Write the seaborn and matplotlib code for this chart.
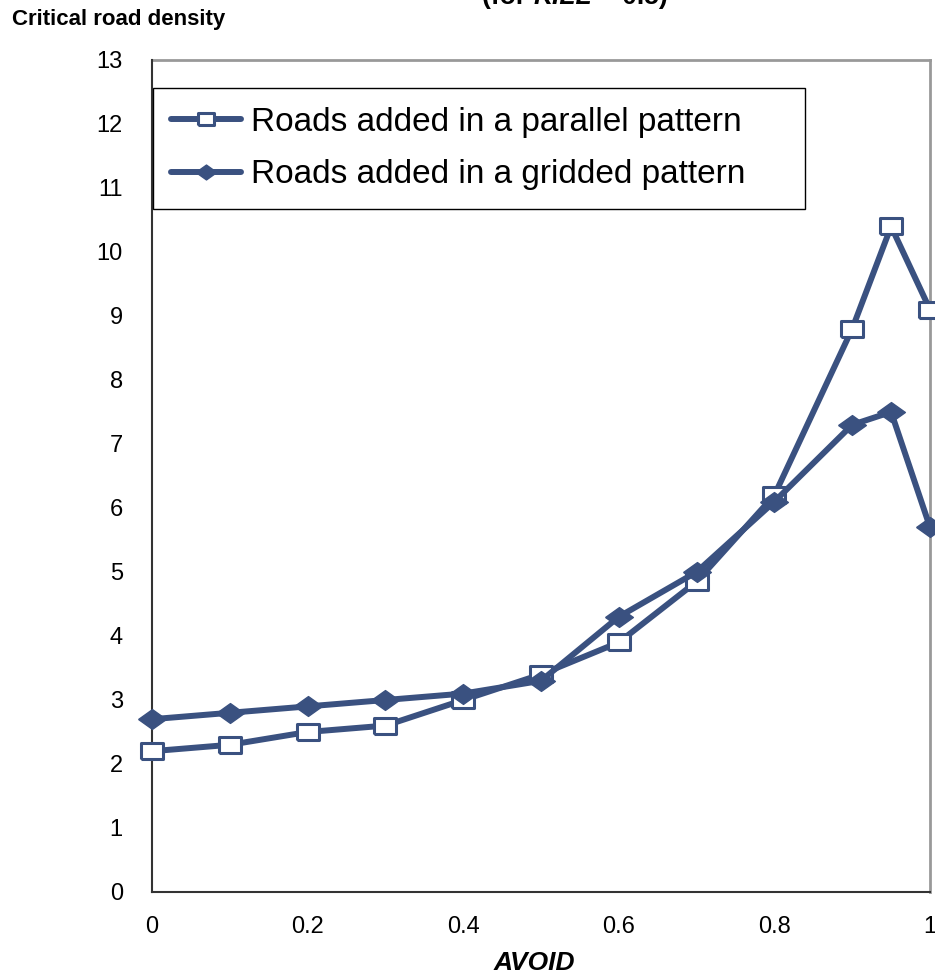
import matplotlib
matplotlib.use("Agg")
import matplotlib.pyplot as plt
import seaborn as sns

# values
avoid = [0, 0.1, 0.2, 0.3, 0.4, 0.5, 0.6, 0.7, 0.8, 0.9, 0.95, 1.0]
parallel = [2.2, 2.3, 2.5, 2.6, 3.0, 3.4, 3.9, 4.85, 6.2, 8.8, 10.4, 9.1]
gridded = [2.7, 2.8, 2.9, 3.0, 3.1, 3.3, 4.3, 5.0, 6.1, 7.3, 7.5, 5.7]
labels = ["Roads added in a parallel pattern", "Roads added in a gridded pattern"]
x_ticks = [0, 0.2, 0.4, 0.6, 0.8, 1.0]
x_ticklabels = ["0", "0.2", "0.4", "0.6", "0.8", "1"]
y_ticks = list(range(0, 14))

sns.set_style("white")
plt.rcParams["font.family"] = ["Liberation Sans", "DejaVu Sans"]
plt.rcParams["text.color"] = "black"

line_col = "#3A5180"
rect = [(-1.4, -1), (1.4, -1), (1.4, 1), (-1.4, 1), (-1.4, -1)]
diamond = [(-1.4, 0), (0, 1), (1.4, 0), (0, -1), (-1.4, 0)]

fig = plt.figure(figsize=(9.35, 9.76), dpi=100)
ax = fig.add_axes([152 / 935, 1 - 892 / 976, 778 / 935, 832 / 976])

sns.lineplot(x=avoid, y=parallel, ax=ax, color=line_col, linewidth=4.3,
             marker=rect, markersize=16, markerfacecolor="white",
             markeredgecolor=line_col, markeredgewidth=2.2,
             label=labels[0], clip_on=False, zorder=4)
sns.lineplot(x=avoid, y=gridded, ax=ax, color=line_col, linewidth=4.3,
             marker=diamond, markersize=20, markerfacecolor=line_col,
             markeredgecolor=line_col, markeredgewidth=1,
             label=labels[1], clip_on=False, zorder=5)

ax.set_xlim(0, 1)
ax.set_ylim(0, 13)
ax.set_xticks(x_ticks)
ax.set_xticklabels(x_ticklabels)
ax.set_yticks(y_ticks)
ax.tick_params(axis="both", direction="out", length=7, width=1.2,
               color="#333333", labelsize=17, labelcolor="black")
ax.tick_params(axis="y", pad=14)
ax.tick_params(axis="x", pad=10)
ax.set_xlabel("")
ax.set_ylabel("")

for side in ["left", "bottom"]:
    ax.spines[side].set_color("#333333")
    ax.spines[side].set_linewidth(1.5)
for side in ["top", "right"]:
    ax.spines[side].set_color("#999999")
    ax.spines[side].set_linewidth(2)
    ax.spines[side].set_zorder(1)

leg = ax.legend(loc="upper left", bbox_to_anchor=(0.001, 0.823, 0.838, 0.143),
                mode="expand", borderaxespad=0, fontsize=24, frameon=True,
                fancybox=False, framealpha=1, edgecolor="black",
                handlelength=2.1, handletextpad=0.3, borderpad=0.55,
                labelspacing=0.65, markerscale=0.75)
leg.get_frame().set_linewidth(1)
leg.set_zorder(6)
for txt in leg.get_texts():
    txt.set_color("black")

# axis titles placed like the original
ax.text(0.492, -0.094, "AVOID", transform=ax.transAxes, ha="center",
        va="baseline", fontsize=19, fontweight="bold", fontstyle="italic")
fig.text(12 / 935, 1 - 25 / 976, "Critical road density", ha="left",
         va="baseline", fontsize=16, fontweight="bold")

ty = 1 - 4 / 976
t1 = fig.text(482 / 935, ty, "(for ", ha="left", va="baseline",
              fontsize=19, fontweight="bold")
t2 = fig.text(0, 0, "KILL", fontsize=19, fontweight="bold", fontstyle="italic",
              ha="left", va="baseline")
t3 = fig.text(0, 0, " = 0.5)", fontsize=19, fontweight="bold",
              ha="left", va="baseline")
fig.canvas.draw()
r = fig.canvas.get_renderer()
inv = fig.transFigure.inverted()
bb1 = t1.get_window_extent(r)
t2.set_position((inv.transform((bb1.x1, 0))[0], ty))
bb2 = t2.get_window_extent(r)
t3.set_position((inv.transform((bb2.x1, 0))[0], ty))

fig.savefig("out.png", dpi=100)
